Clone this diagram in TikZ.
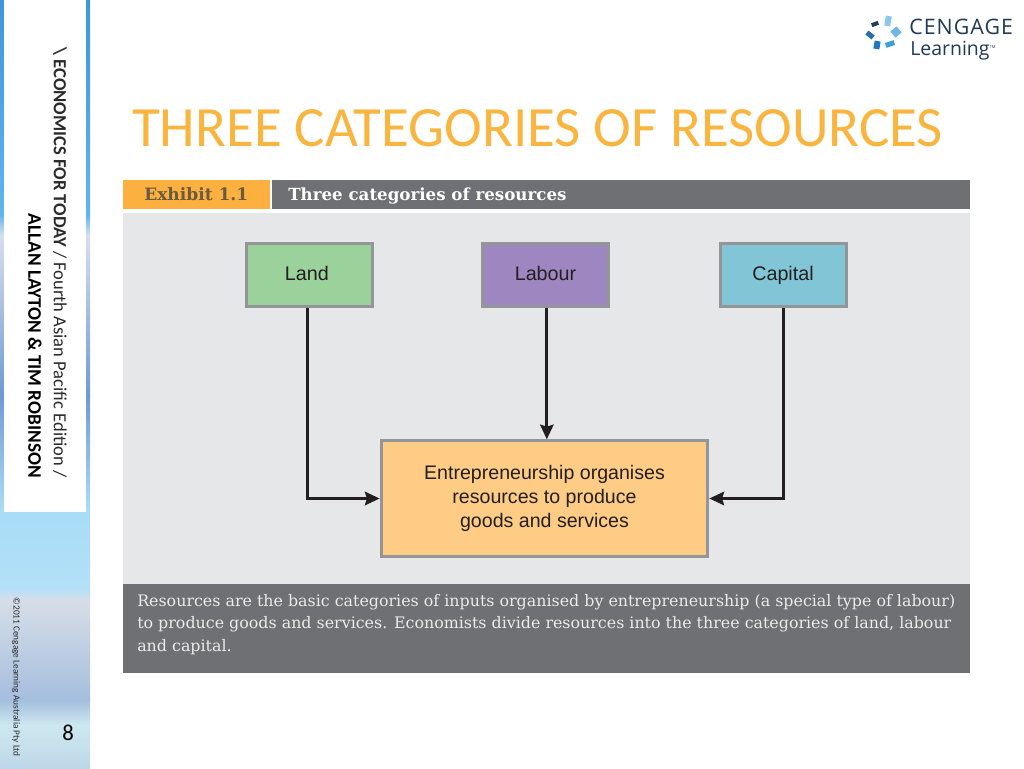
\documentclass[tikz,border=0pt]{standalone}
\usepackage{fontspec}
\setmainfont{Carlito}
\newfontfamily\labelfont{Liberation Sans}
\newfontfamily\slabfont{DejaVu Serif}
\newfontfamily\logofont{Open Sans}
\usetikzlibrary{arrows.meta}
\definecolor{slideTitle}{HTML}{F9B53F}
\definecolor{tabOrange}{HTML}{FBB040}
\definecolor{tabText}{HTML}{6B5B3E}
\definecolor{barGray}{HTML}{6F7073}
\definecolor{panelGray}{HTML}{E6E7E8}
\definecolor{boxBorder}{HTML}{939598}
\definecolor{landGreen}{HTML}{9BD19A}
\definecolor{labourPurple}{HTML}{9E86C0}
\definecolor{capitalBlue}{HTML}{82C5D6}
\definecolor{entreOrange}{HTML}{FFCC85}
\definecolor{lineDark}{HTML}{231F20}
\definecolor{logoInk}{HTML}{1F3A54}
\definecolor{sidebarInk}{HTML}{2B2B2B}
\tikzset{
    resource/.style={draw=boxBorder, line width=2.25pt, minimum width=94.5pt, minimum height=47pt, text height=11pt, text depth=3pt, text=lineDark, font=\labelfont\fontsize{14.8}{17}\selectfont},
    flow/.style={-{Stealth[length=11pt, width=10pt, inset=1.5pt]}, line width=2.25pt, lineDark},
}
\begin{document}
\begin{tikzpicture}[x=0.75pt, y=-0.75pt]
    \useasboundingbox (0, 0) rectangle (1024, 768);
    \fill[white] (0, 0) rectangle (1024, 768);

    % sidebar sky
    \shade[top color={rgb,255:red,62;green,150;blue,220}, bottom color={rgb,255:red,95;green,182;blue,238}] (0, 0) rectangle (90, 215);
    \shade[top color={rgb,255:red,95;green,182;blue,238}, bottom color={rgb,255:red,215;green,222;blue,236}] (0, 215) rectangle (90, 235);
    \shade[top color={rgb,255:red,215;green,222;blue,236}, bottom color={rgb,255:red,110;green,155;blue,212}] (0, 235) rectangle (90, 395);
    \shade[top color={rgb,255:red,110;green,155;blue,212}, bottom color={rgb,255:red,168;green,220;blue,247}] (0, 395) rectangle (90, 510);
    \shade[top color={rgb,255:red,168;green,220;blue,247}, bottom color={rgb,255:red,178;green,224;blue,248}] (0, 510) rectangle (90, 588);
    \shade[top color={rgb,255:red,178;green,224;blue,248}, bottom color={rgb,255:red,214;green,222;blue,232}] (0, 588) rectangle (90, 600);
    \shade[top color={rgb,255:red,214;green,222;blue,232}, bottom color={rgb,255:red,165;green,190;blue,222}] (0, 600) rectangle (90, 700);
    \shade[top color={rgb,255:red,165;green,190;blue,222}, bottom color={rgb,255:red,205;green,232;blue,240}] (0, 700) rectangle (90, 725);
    \shade[top color={rgb,255:red,205;green,232;blue,240}, bottom color={rgb,255:red,190;green,215;blue,232}] (0, 725) rectangle (90, 768);
    \fill[white] (4, 0) rectangle (86, 512);

    \node[rotate=-90, anchor=east, inner sep=0pt, text=sidebarInk] (bookTitle) at (60, 478) {\fontsize{13.9}{16}\selectfont\textbf{\textbackslash\ ECONOMICS FOR TODAY} / Fourth Asian Pacific Edition /};
    \node[rotate=-90, anchor=east, inner sep=0pt, text=black] (bookAuthors) at (35, 478) {\fontsize{14.4}{16}\selectfont\textbf{ALLAN LAYTON \& TIM ROBINSON}};
    \node[rotate=-90, anchor=east, inner sep=0pt, text=sidebarInk] (bookCopyright) at (16, 757) {\fontsize{7}{8}\selectfont ©2011 Cengage Learning Australia Pty Ltd};
    \node[text=black, inner sep=0pt] (pageNumber) at (68, 733) {\fontsize{17}{20}\selectfont 8};

    % logo
    \fill[fill={rgb,255:red,140;green,200;blue,238}, rotate around={-10:(888, 21)}] (885, 16) rectangle (891, 26);
    \fill[fill={rgb,255:red,108;green,184;blue,232}, rotate around={40:(896, 32)}] (892, 28) rectangle (900, 36);
    \fill[fill={rgb,255:red,58;green,160;blue,220}, rotate around={18:(890, 44)}] (885.5, 41.5) rectangle (894.5, 46.5);
    \fill[fill={rgb,255:red,28;green,120;blue,192}, rotate around={-10:(877, 45)}] (874, 41) rectangle (880, 49);
    \fill[fill={rgb,255:red,42;green,110;blue,168}, rotate around={-38:(870, 35)}] (866, 32.5) rectangle (874, 37.5);
    \fill[fill={rgb,255:red,30;green,58;blue,95}, rotate around={20:(875, 24)}] (871.5, 22) rectangle (878.5, 26);
    \node[anchor=base west, inner sep=0pt, text=logoInk] (logoName) at (909, 34) {\logofont\fontsize{16}{18}\selectfont\addfontfeature{LetterSpace=5}CENGAGE};
    \node[anchor=base west, inner sep=0pt, text=logoInk] (logoSub) at (910, 55) {\logofont\fontsize{14.6}{17}\selectfont Learning\raisebox{5pt}{\fontsize{3}{3}\selectfont TM}};

    \node[anchor=base west, inner sep=0pt, text=slideTitle] (slideHead) at (132, 146) {\fontsize{42.7}{50}\selectfont THREE CATEGORIES OF RESOURCES};

    % exhibit
    \fill[tabOrange] (123, 180) rectangle (270, 209);
    \fill[barGray] (272, 180) rectangle (970, 209);
    \fill[panelGray] (123, 213) rectangle (970, 584);
    \fill[barGray] (123, 584) rectangle (970, 673);
    \node[anchor=base west, inner sep=0pt, text=tabText] (exhibitTag) at (144, 200) {\slabfont\bfseries\fontsize{12.8}{15}\selectfont Exhibit 1.1};
    \node[anchor=base west, inner sep=0pt, text=white] (exhibitName) at (288, 200) {\slabfont\bfseries\fontsize{12.5}{15}\selectfont Three categories of resources};

    \node[resource, fill=landGreen] (land) at (309.5, 275) {\hspace{-4pt}Land};
    \node[resource, fill=labourPurple] (labour) at (545.5, 275) {Labour};
    \node[resource, fill=capitalBlue] (capital) at (783, 275) {Capital};
    \node[draw=boxBorder, line width=2.25pt, fill=entreOrange, minimum width=245pt, minimum height=86.5pt, align=center, text=lineDark, font=\labelfont\fontsize{14.7}{18}\selectfont] (entre) at (544.5, 498.5) {Entrepreneurship organises\\resources to produce\\goods and services};

    \draw[flow] ([xshift=-1.5pt]land.south) |- (entre.west);
    \draw[flow] ([xshift=1pt]labour.south) -- ([xshift=1pt]labour.south |- entre.north);
    \draw[flow] (capital.south) |- (entre.east);

    \node[anchor=north west, inner sep=0pt, align=left, text=white!92!black, font=\slabfont\fontsize{11.9}{16.9}\selectfont] (exhibitNote) at (137, 594) {Resources are the basic categories of inputs organised by entrepreneurship (a special type of labour)\\to produce goods and services. Economists divide resources into the three categories of land, labour\\and capital.};
\end{tikzpicture}
\end{document}
